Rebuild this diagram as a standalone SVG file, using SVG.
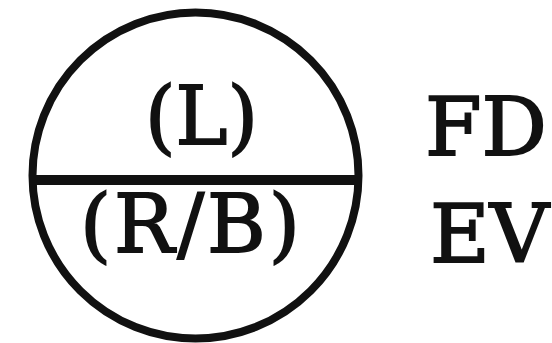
<svg xmlns="http://www.w3.org/2000/svg" width="552" height="343" viewBox="0 0 552 343">
<style>
.t{font-family:"DejaVu Serif","Liberation Serif",serif;font-size:80px;fill:#111;stroke:#111;stroke-width:1.8px;}
.s{fill:none;stroke:#111;}
</style>
<rect width="552" height="343" fill="#fff"/>
<g id="symbol">
<circle class="s" cx="195.5" cy="175.5" r="163" stroke-width="8"/>
<line class="s" x1="30" y1="180" x2="361" y2="180" stroke-width="10"/>
<text class="t" x="145" y="144" textLength="113" lengthAdjust="spacingAndGlyphs">(L)</text>
<text class="t" x="80" y="252" textLength="220" lengthAdjust="spacing">(R/B)</text>
</g>
<g id="labels">
<text class="t" x="425" y="155" textLength="122" lengthAdjust="spacingAndGlyphs">FD</text>
<text class="t" x="430" y="262" textLength="119" lengthAdjust="spacingAndGlyphs">EV</text>
</g>
</svg>
